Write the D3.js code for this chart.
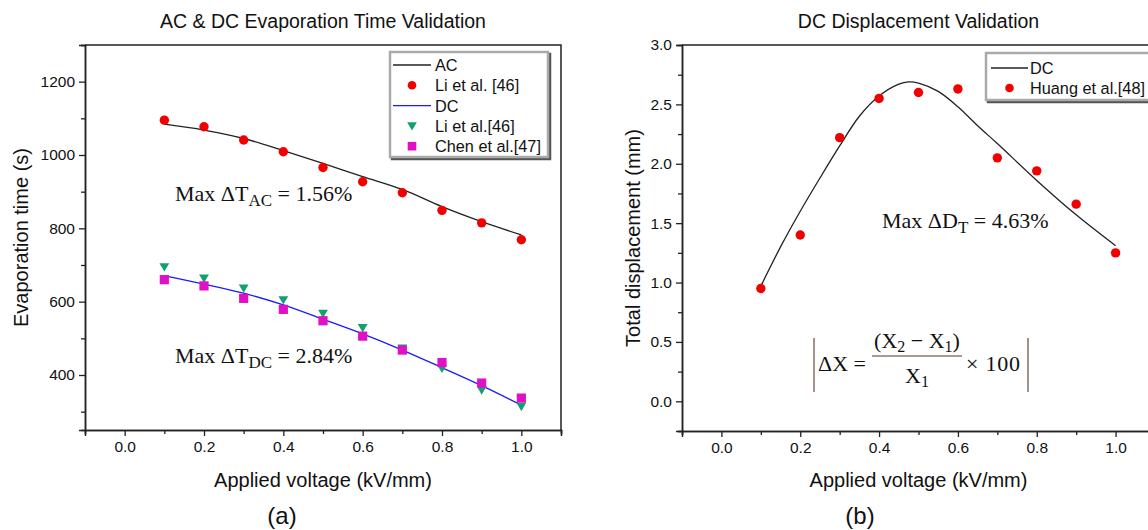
<!DOCTYPE html>
<html><head><meta charset="utf-8">
<script src="https://cdn.jsdelivr.net/npm/d3@7"></script>
<style>
body{margin:0;background:#fff;}
svg{display:block;}
text{font-family:"Liberation Sans",Arial,sans-serif;fill:#111;}
.math{font-family:"Liberation Serif","Times New Roman",serif;}
</style></head>
<body>
<svg id="c" width="1148" height="530"></svg>
<script>
// ---- data ----
const voltage = [0.1,0.2,0.3,0.4,0.5,0.6,0.7,0.8,0.9,1.0];
const acModel = [1084,1068,1045,1012,977,941,906,859,818,782];
const acLi = [1095,1077,1041,1009,966,927,897,849,815,769];
const dcModel = [671,648,623,591,552,512,468,420,371,318];
const dcLi = [695,664,637,605,568,529,473,418,359,314];
const dcChen = [660,643,609,579,548,506,468,434,378,337];

const dispX = [0.1,0.15,0.2,0.25,0.3,0.35,0.4,0.45,0.475,0.5,0.55,0.6,0.65,0.7,0.8,0.9,1.0];
const dispModel = [0.97,1.30,1.60,1.88,2.15,2.40,2.57,2.67,2.69,2.68,2.61,2.48,2.32,2.17,1.86,1.57,1.31];
const dispHuang = [0.95,1.40,2.22,2.55,2.60,2.63,2.05,1.94,1.66,1.25];

const xTicks = [0.0,0.2,0.4,0.6,0.8,1.0];
const xMinor = [-0.1,0.1,0.3,0.5,0.7,0.9,1.1];
const yTicksA = [400,600,800,1000,1200];
const yMinorA = [300,500,700,900,1100,1300];
const yTicksB = [0.0,0.5,1.0,1.5,2.0,2.5,3.0];
const yMinorB = [-0.25,0.25,0.75,1.25,1.75,2.25,2.75];

const RED="#f20000", GREEN="#13a070", MAG="#e010c6", BLUE="#1a1aff", FRAME="#222";

const svg = d3.select("#c");

function panel(o){
  const g = svg.append("g");
  const x = d3.scaleLinear().domain(o.xd).range([o.x0,o.x1]);
  const y = d3.scaleLinear().domain(o.yd).range([o.y1,o.y0]);
  g.append("path").attr("d",`M${o.x0},${o.y0}H${o.x1}V${o.y1}`).attr("fill","none").attr("stroke",FRAME).attr("stroke-width",1.5);
  g.append("g").attr("transform",`translate(0,${o.y1})`)
    .call(d3.axisBottom(x).tickValues(xTicks).tickSize(6).tickPadding(5).tickFormat(d3.format(".1f")));
  g.append("g").attr("transform",`translate(0,${o.y1})`)
    .call(d3.axisBottom(x).tickValues(xMinor).tickSize(4).tickFormat(""));
  g.append("g").attr("transform",`translate(${o.x0},0)`)
    .call(d3.axisLeft(y).tickValues(o.yt).tickSize(6).tickPadding(4).tickFormat(o.yf));
  g.append("g").attr("transform",`translate(${o.x0},0)`)
    .call(d3.axisLeft(y).tickValues(o.ym).tickSize(4).tickFormat(""));
  g.selectAll(".domain").attr("stroke",FRAME).attr("stroke-width",1.5);
  g.selectAll(".tick line").attr("stroke",FRAME).attr("stroke-width",1.3);
  g.selectAll(".tick text").attr("font-size",15.5).attr("fill","#111").attr("font-family","Liberation Sans, Arial, sans-serif");
  g.append("text").attr("x",(o.x0+o.x1)/2).attr("y",28).attr("text-anchor","middle").attr("font-size",19.5).text(o.title);
  g.append("text").attr("x",(o.x0+o.x1)/2).attr("y",487).attr("text-anchor","middle").attr("font-size",20).text("Applied voltage (kV/mm)");
  g.append("text").attr("transform",`translate(${o.ylx},${(o.y0+o.y1)/2}) rotate(-90)`).attr("text-anchor","middle").attr("font-size",20).text(o.ylab);
  g.append("text").attr("x",o.tagx).attr("y",524).attr("text-anchor","middle").attr("font-size",24)
    .attr("font-family","Open Sans, Noto Sans, sans-serif").text(o.tag);
  return {g,x,y};
}

// ---- panel (a) ----
const A = panel({x0:85,x1:561,y0:45,y1:430,xd:[-0.1,1.1],yd:[250,1300],yt:yTicksA,ym:yMinorA,yf:d3.format("d"),
  title:"AC & DC Evaporation Time Validation",ylab:"Evaporation time (s)",ylx:28,tag:"(a)",tagx:282});

const lineA = d3.line().x((d,i)=>A.x(voltage[i])).y(d=>A.y(d)).curve(d3.curveMonotoneX);
A.g.append("path").attr("d",lineA(acModel)).attr("fill","none").attr("stroke","#222").attr("stroke-width",1.3);
A.g.append("path").attr("d",lineA(dcModel)).attr("fill","none").attr("stroke",BLUE).attr("stroke-width",1.3);

const tri = "M-4.9,-3.7L4.9,-3.7L0,4.7Z";
A.g.selectAll(".acli").data(acLi).join("circle").attr("cx",(d,i)=>A.x(voltage[i])).attr("cy",d=>A.y(d)).attr("r",4.7).attr("fill",RED);
A.g.selectAll(".dcli").data(dcLi).join("path").attr("d",tri).attr("transform",(d,i)=>`translate(${A.x(voltage[i])},${A.y(d)})`).attr("fill",GREEN);
A.g.selectAll(".dcch").data(dcChen).join("rect").attr("x",(d,i)=>A.x(voltage[i])-4.6).attr("y",d=>A.y(d)-4.6).attr("width",9.2).attr("height",9.2).attr("fill",MAG);

function legendBox(g,x,y,w,h){
  g.append("rect").attr("x",x+2).attr("y",y+2).attr("width",w).attr("height",h).attr("fill","none").attr("stroke","#555").attr("stroke-width",2.5);
  g.append("rect").attr("x",x).attr("y",y).attr("width",w).attr("height",h).attr("fill","#fff").attr("stroke","#aaa").attr("stroke-width",2.5);
}
legendBox(A.g,390,52,158,105);
const legA = [
  {t:"AC",k:"line",c:"#222"},
  {t:"Li et al. [46]",k:"circle",c:RED},
  {t:"DC",k:"line",c:BLUE},
  {t:"Li et al.[46]",k:"tri",c:GREEN},
  {t:"Chen et al.[47]",k:"sq",c:MAG}];
function drawLegend(g,items,lx0,lx1,tx,sy,dy){
  items.forEach((it,i)=>{
    const yy = sy+i*dy, cx=(lx0+lx1)/2;
    if(it.k==="line") g.append("line").attr("x1",lx0).attr("x2",lx1).attr("y1",yy).attr("y2",yy).attr("stroke",it.c).attr("stroke-width",1.3);
    if(it.k==="circle") g.append("circle").attr("cx",cx).attr("cy",yy).attr("r",4.3).attr("fill",it.c);
    if(it.k==="tri") g.append("path").attr("d",tri).attr("transform",`translate(${cx},${yy})`).attr("fill",it.c);
    if(it.k==="sq") g.append("rect").attr("x",cx-4.3).attr("y",yy-4.3).attr("width",8.6).attr("height",8.6).attr("fill",it.c);
    g.append("text").attr("x",tx).attr("y",yy+6).attr("font-size",16.3).text(it.t);
  });
}
drawLegend(A.g,legA,393,431,435,65,20.3);

function mathLabel(g,x,y,main,sub,val){
  const t = g.append("text").attr("class","math").attr("x",x).attr("y",y).attr("font-size",22);
  t.append("tspan").text(main);
  t.append("tspan").attr("dy",5).attr("font-size",17).text(sub);
  t.append("tspan").attr("dy",-5).text(" = "+val);
}
mathLabel(A.g,175,201,"Max ΔT","AC","1.56%");
mathLabel(A.g,175,363,"Max ΔT","DC","2.84%");

// ---- panel (b) ----
const B = panel({x0:682,x1:1155,y0:45,y1:431,xd:[-0.1,1.1],yd:[-0.25,3.0],yt:yTicksB,ym:yMinorB,yf:d3.format(".1f"),
  title:"DC Displacement Validation",ylab:"Total displacement (mm)",ylx:640,tag:"(b)",tagx:860});

const lineB = d3.line().x((d,i)=>B.x(dispX[i])).y(d=>B.y(d)).curve(d3.curveCatmullRom);
B.g.append("path").attr("d",lineB(dispModel)).attr("fill","none").attr("stroke","#222").attr("stroke-width",1.3);
B.g.selectAll(".hu").data(dispHuang).join("circle").attr("cx",(d,i)=>B.x(voltage[i])).attr("cy",d=>B.y(d)).attr("r",4.7).attr("fill",RED);

legendBox(B.g,986,53,175,47);
drawLegend(B.g,[{t:"DC",k:"line",c:"#222"},{t:"Huang et al.[48]",k:"circle",c:RED}],991,1028,1030,68,20);

mathLabel(B.g,882,228,"Max ΔD","T","4.63%");
// formula
{
  const g = B.g.append("g");
  const bar = "#8a7870";
  g.append("line").attr("x1",814).attr("x2",814).attr("y1",338).attr("y2",392).attr("stroke",bar).attr("stroke-width",1.6);
  g.append("line").attr("x1",1028).attr("x2",1028).attr("y1",338).attr("y2",392).attr("stroke",bar).attr("stroke-width",1.6);
  g.append("text").attr("class","math").attr("x",818).attr("y",371).attr("font-size",22).text("ΔX =");
  g.append("line").attr("x1",872).attr("x2",962).attr("y1",356).attr("y2",356).attr("stroke",bar).attr("stroke-width",1.3);
  const n = g.append("text").attr("class","math").attr("x",917).attr("y",348).attr("text-anchor","middle").attr("font-size",22);
  n.append("tspan").text("(X");
  n.append("tspan").attr("dy",4).attr("font-size",16).text("2");
  n.append("tspan").attr("dy",-4).text(" − X");
  n.append("tspan").attr("dy",4).attr("font-size",16).text("1");
  n.append("tspan").attr("dy",-4).text(")");
  const d = g.append("text").attr("class","math").attr("x",917).attr("y",383).attr("text-anchor","middle").attr("font-size",22);
  d.append("tspan").text("X");
  d.append("tspan").attr("dy",4).attr("font-size",16).text("1");
  g.append("text").attr("class","math").attr("x",966).attr("y",371).attr("font-size",22).attr("letter-spacing",0.8).text("× 100");
}
</script>
</body></html>
